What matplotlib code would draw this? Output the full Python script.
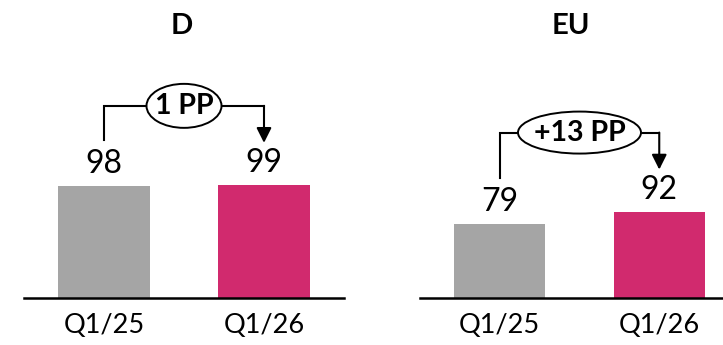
import matplotlib.pyplot as plt
from matplotlib.patches import Ellipse

plt.rcParams['font.family'] = ['Lato', 'DejaVu Sans']

periods = ['Q1/25', 'Q1/26']
regions = ['D', 'EU']
values_d = [98, 99]
values_eu = [79, 92]
changes = ['1 PP', '+13 PP']

bar_colors = ['#A5A5A5', '#D12A6E']
ymax = {'D': 217, 'EU': 264}
oval_px = {'D': (75, 44), 'EU': (123, 42)}

fig = plt.figure(figsize=(7.23, 3.45), dpi=100)
W, H = 723.0, 345.0
ax_h_px = 248.0
base_px = 298.0


def make_axes(left_px, right_px):
    return fig.add_axes([left_px / W, (H - base_px) / H,
                         (right_px - left_px) / W, ax_h_px / H])


def draw_panel(ax, name, vals, change, title_x, width_px):
    top = ymax[name]
    px = top / ax_h_px  # data units per pixel (y)
    pxx = 2.0 / width_px  # data units per pixel (x)
    x = [0, 1]
    ax.bar(x, vals, width=0.57, color=bar_colors)
    ax.set_xlim(-0.5, 1.5)
    ax.set_ylim(0, top)
    for s in ['left', 'right', 'top']:
        ax.spines[s].set_visible(False)
    ax.spines['bottom'].set_linewidth(1.8)
    ax.set_yticks([])
    ax.set_xticks(x)
    ax.set_xticklabels(periods, fontsize=19.5)
    ax.tick_params(axis='x', length=0, pad=11)

    for xi, v in zip(x, vals):
        ax.text(xi, v + 22 * px, str(v), ha='center', va='center', fontsize=23)

    # bracket with arrow from first bar to second
    start = vals[0] + 46 * px
    tip = vals[1] + 42 * px
    ybr = max(vals) + 79 * px
    ax.plot([0, 0, 1], [start, ybr, ybr], color='black', lw=1.5,
            solid_joinstyle='miter')
    ax.annotate('', xy=(1, tip), xytext=(1, ybr),
                arrowprops=dict(arrowstyle='-|>,head_length=0.9,head_width=0.45',
                                color='black', lw=1.5, shrinkA=0, shrinkB=0))
    ew, eh = oval_px[name]
    ax.add_patch(Ellipse((0.5, ybr), ew * pxx, eh * px, fc='white',
                         ec='black', lw=1.4, zorder=3))
    ax.text(0.5, ybr, change, ha='center', va='center', fontsize=20.5,
            fontweight='bold', zorder=4)

    fig.text(title_x / W, (H - 26) / H, name, ha='center', va='center',
             fontsize=21, fontweight='bold')


ax1 = make_axes(24, 344)
draw_panel(ax1, 'D', values_d, changes[0], 182, 320)
ax2 = make_axes(420, 739)
draw_panel(ax2, 'EU', values_eu, changes[1], 571, 319)

fig.savefig('out.png', dpi=100)
